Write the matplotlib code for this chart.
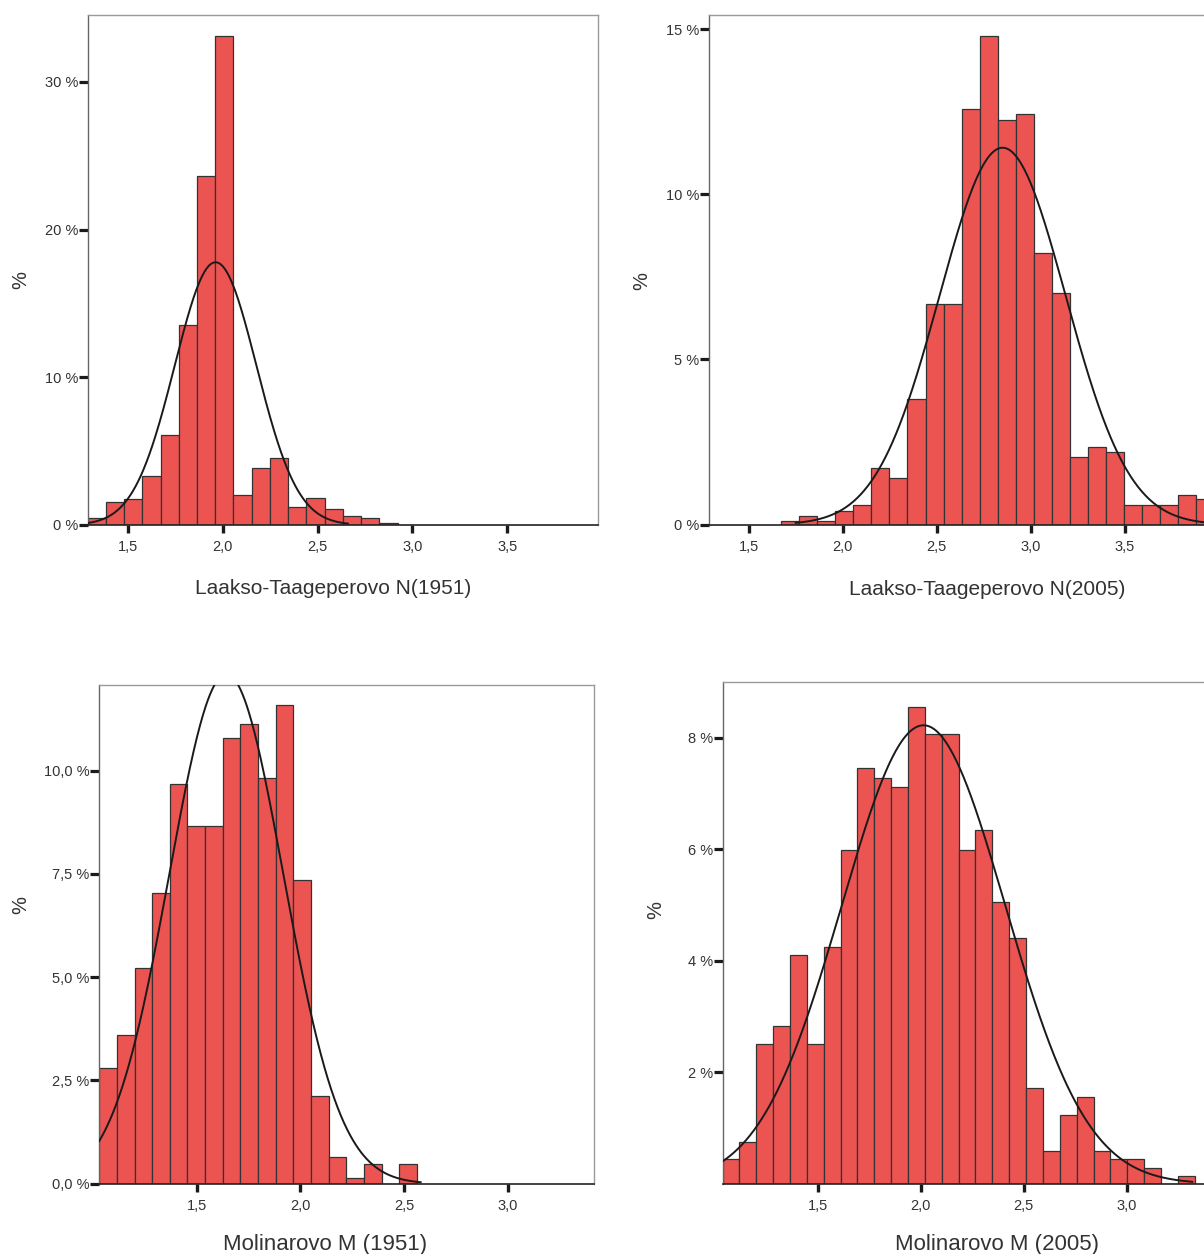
import numpy as np
import matplotlib
matplotlib.use("Agg")
import matplotlib.pyplot as plt

plt.rcParams['font.family'] = ['Liberation Sans', 'DejaVu Sans']

# ---------------- data ----------------
# Laakso-Taageperovo N (1951)
n1951_start = 1.2877
n1951_width = 0.0961
n1951_pct = [0.47, 1.56, 1.77, 3.33, 6.12, 13.54, 23.62, 33.13, 2.03, 3.85,
             4.56, 1.22, 1.80, 1.09, 0.60, 0.47, 0.13]
n1951_mean, n1951_sd = 1.962, 0.2155
n1951_curve_x = (1.2877, 2.66)

# Laakso-Taageperovo N (2005)
n2005_start = 1.672
n2005_width = 0.0961
n2005_pct = [0.12, 0.27, 0.12, 0.42, 0.59, 1.71, 1.40, 3.80, 6.69, 6.69,
             12.58, 14.79, 12.26, 12.42, 8.23, 7.02, 2.04, 2.35, 2.20, 0.59,
             0.59, 0.59, 0.91, 0.76]
n2005_mean, n2005_sd = 2.851, 0.336
n2005_curve_x = (1.75, 4.0)

# Molinarovo M (1951)
m1951_start = 1.0285
m1951_width = 0.0852
m1951_pct = [2.79, 3.59, 5.22, 7.03, 9.67, 8.65, 8.65, 10.79, 11.12, 9.83,
             11.58, 7.34, 2.12, 0.65, 0.14, 0.48, 0.0, 0.48]
m1951_mean, m1951_sd = 1.642, 0.2756
m1951_curve_x = (1.0285, 2.58)

# Molinarovo M (2005)
m2005_start = 1.0357
m2005_width = 0.0820
m2005_pct = [0.44, 0.75, 2.51, 2.83, 4.10, 2.51, 4.25, 5.99, 7.45, 7.27,
             7.11, 8.54, 8.07, 8.07, 5.99, 6.34, 5.06, 4.41, 1.71, 0.59,
             1.24, 1.56, 0.59, 0.44, 0.44, 0.28, 0.0, 0.14]
m2005_mean, m2005_sd = 2.013, 0.398
m2005_curve_x = (1.0357, 3.32)

n_xticks = [1.5, 2.0, 2.5, 3.0, 3.5]
n_xticklabels = ['1,5', '2,0', '2,5', '3,0', '3,5']
m_xticks = [1.5, 2.0, 2.5, 3.0]
m_xticklabels = ['1,5', '2,0', '2,5', '3,0']

n1951_yticks = [0, 10, 20, 30]
n1951_yticklabels = ['0 %', '10 %', '20 %', '30 %']
n2005_yticks = [0, 5, 10, 15]
n2005_yticklabels = ['0 %', '5 %', '10 %', '15 %']
m1951_yticks = [0, 2.5, 5.0, 7.5, 10.0]
m1951_yticklabels = ['0,0 %', '2,5 %', '5,0 %', '7,5 %', '10,0 %']
m2005_yticks = [2, 4, 6, 8]
m2005_yticklabels = ['2 %', '4 %', '6 %', '8 %']

titles = ['Laakso-Taageperovo N(1951)', 'Laakso-Taageperovo N(2005)',
          'Molinarovo M (1951)', 'Molinarovo M (2005)']

# ---------------- layout ----------------
W, H = 1204, 1254
fig = plt.figure(figsize=(W / 100, H / 100), dpi=100)
fig.patch.set_facecolor('white')

BAR = '#EC5452'
EDGE = '#333333'
TXT = '#333333'


def px_axes(l, t, r, b):
    return fig.add_axes([l / W, 1 - b / H, (r - l) / W, (b - t) / H])


def panel(box, xlim, ylim, start, width, pct, mean, sd, cx,
          xt, xtl, yt, ytl):
    ax = px_axes(*box)
    edges = start + width * np.arange(len(pct))
    ax.bar(edges, pct, width=width, align='edge', color=BAR,
           edgecolor=EDGE, linewidth=0.9, zorder=2)
    xs = np.linspace(cx[0], cx[1], 600)
    ys = 100 * width * np.exp(-0.5 * ((xs - mean) / sd) ** 2) / (sd * np.sqrt(2 * np.pi))
    ax.plot(xs, ys, color='#1a1a1a', linewidth=1.4, zorder=3)
    ax.set_xlim(*xlim)
    ax.set_ylim(*ylim)
    ax.set_xticks(xt)
    ax.set_xticklabels(xtl)
    ax.set_yticks(yt)
    ax.set_yticklabels(ytl)
    for s in ['top', 'right']:
        ax.spines[s].set_color('#9a9a9a')
        ax.spines[s].set_linewidth(1.0)
    ax.spines['left'].set_color('#666666')
    ax.spines['left'].set_linewidth(1.0)
    ax.spines['bottom'].set_color('#222222')
    ax.spines['bottom'].set_linewidth(1.2)
    ax.tick_params(axis='y', direction='out', length=6.5, width=2.3,
                   color='#1a1a1a', pad=0.5, labelsize=10.5, labelcolor=TXT)
    ax.tick_params(axis='x', direction='out', length=6.0, width=2.4,
                   color='#1a1a1a', pad=5, labelsize=10.5, labelcolor=TXT)
    return ax


panel((87.7, 14.6, 597.5, 525.0), (1.2877, 3.976), (0, 34.56),
      n1951_start, n1951_width, n1951_pct, n1951_mean, n1951_sd, n1951_curve_x,
      n_xticks, n_xticklabels, n1951_yticks, n1951_yticklabels)
panel((708.6, 14.6, 1214.0, 524.6), (1.2866, 3.976), (0, 15.44),
      n2005_start, n2005_width, n2005_pct, n2005_mean, n2005_sd, n2005_curve_x,
      n_xticks, n_xticklabels, n2005_yticks, n2005_yticklabels)
panel((99.2, 685.4, 594.0, 1183.8), (1.0285, 3.4165), (0, 12.06),
      m1951_start, m1951_width, m1951_pct, m1951_mean, m1951_sd, m1951_curve_x,
      m_xticks, m_xticklabels, m1951_yticks, m1951_yticklabels)
panel((722.5, 682.3, 1217.0, 1183.9), (1.0357, 3.44), (0, 8.99),
      m2005_start, m2005_width, m2005_pct, m2005_mean, m2005_sd, m2005_curve_x,
      m_xticks, m_xticklabels, m2005_yticks, m2005_yticklabels)

# y labels
for (x, y) in [(20.6, 280), (641.6, 281), (20.6, 905), (655.9, 910)]:
    fig.text(x / W, 1 - y / H, '%', rotation=90, ha='center', va='center',
             fontsize=14.5, color=TXT)

# x labels
for (x, y, t, fs) in [(333.5, 594, titles[0], 15), (987.5, 595, titles[1], 15),
                      (325, 1250, titles[2], 16), (997, 1250, titles[3], 16)]:
    fig.text(x / W, 1 - y / H, t, ha='center', va='baseline',
             fontsize=fs, color=TXT)

fig.savefig('out.png', dpi=100)
